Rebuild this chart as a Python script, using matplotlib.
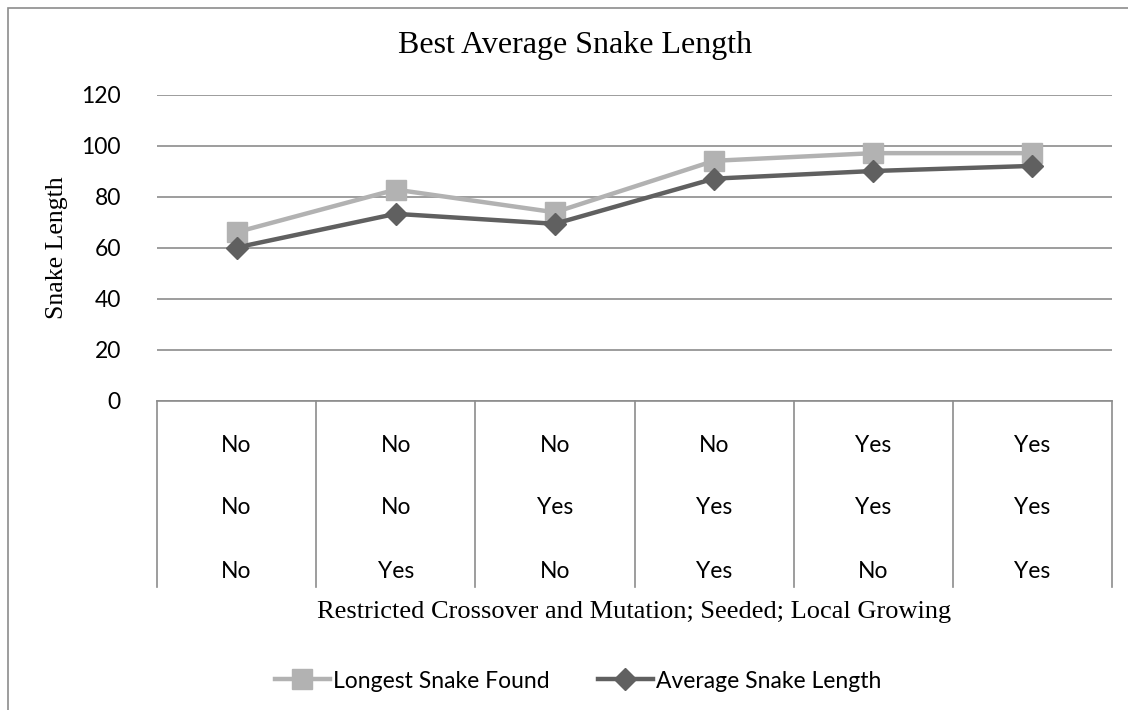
import numpy as np
import matplotlib.pyplot as plt
from matplotlib.patches import Rectangle

# data
row1 = ['No', 'No', 'No', 'No', 'Yes', 'Yes']   # restricted crossover and mutation
row2 = ['No', 'No', 'Yes', 'Yes', 'Yes', 'Yes']  # seeded
row3 = ['No', 'Yes', 'No', 'Yes', 'No', 'Yes']   # local growing
longest = [66, 82.7, 73.8, 94, 97, 97]
average = [60, 73.2, 69.3, 87, 90, 92]
yticks = [0, 20, 40, 60, 80, 100, 120]

sans = ['Lato', 'DejaVu Sans']
serif = ['Liberation Serif', 'DejaVu Serif']

fig = plt.figure(figsize=(11.28, 7.10), dpi=100)
W, H = 1128, 710

# outer chart border (right/bottom run off the image)
fig.patches.append(Rectangle((8 / W, -0.1), 1.2, 1 - 8 / H + 0.1, transform=fig.transFigure,
                             fill=False, ec='#8c8c8c', lw=1.2))

ax = fig.add_axes([157 / W, 1 - 400.5 / H, (1112 - 157) / W, (400.5 - 94.5) / H])
x = np.arange(len(longest)) + 0.5

ax.plot(x, longest, color='#b2b2b2', lw=3.2, marker='s', ms=14, label='Longest Snake Found', zorder=3)
ax.plot(x, average, color='#606060', lw=3.2, marker='D', ms=11, label='Average Snake Length', zorder=4)

ax.set_xlim(0, 6)
ax.set_ylim(0, 120)
ax.set_yticks(yticks)
ax.set_yticklabels([str(t) for t in yticks], family=sans, fontsize=16.5)
ax.tick_params(axis='y', length=0, pad=26)
ax.set_xticks([])
ax.yaxis.grid(True, color='#8c8c8c', lw=1.2)
ax.set_axisbelow(True)
for s in ['top', 'right', 'left']:
    ax.spines[s].set_visible(False)
ax.spines['bottom'].set_color('#8c8c8c')
ax.spines['bottom'].set_linewidth(1.2)

# category table under the axis
tb = -(587 - 400.5) / 306
for b in range(7):
    ax.plot([b, b], [0, tb], transform=ax.get_xaxis_transform(), clip_on=False,
            color='#8c8c8c', lw=1.2)
rows_y = [-(445 - 400.5) / 306, -(508 - 400.5) / 306, -(571 - 400.5) / 306]
for labels, ry in zip([row1, row2, row3], rows_y):
    for xi, lab in zip(x, labels):
        ax.text(xi, ry, lab, transform=ax.get_xaxis_transform(), ha='center', va='center',
                family=sans, fontsize=16.5)

fig.text(575 / W, 1 - 45 / H, 'Best Average Snake Length', ha='center', va='center',
         family=serif, fontsize=23)
fig.text(634 / W, 1 - 612 / H, 'Restricted Crossover and Mutation; Seeded; Local Growing',
         ha='center', va='center', family=serif, fontsize=19)
fig.text(57 / W, 1 - 248 / H, 'Snake Length', ha='center', va='center', rotation=90,
         family=serif, fontsize=18.5)

handles, labs = ax.get_legend_handles_labels()
fig.legend(handles, labs, loc='center', bbox_to_anchor=(578 / W, 1 - 681 / H), ncol=2,
           frameon=False, prop={'family': sans, 'size': 16.5}, handlelength=2.4,
           columnspacing=2.1, handletextpad=0.15)

plt.savefig('out.png', dpi=100)
